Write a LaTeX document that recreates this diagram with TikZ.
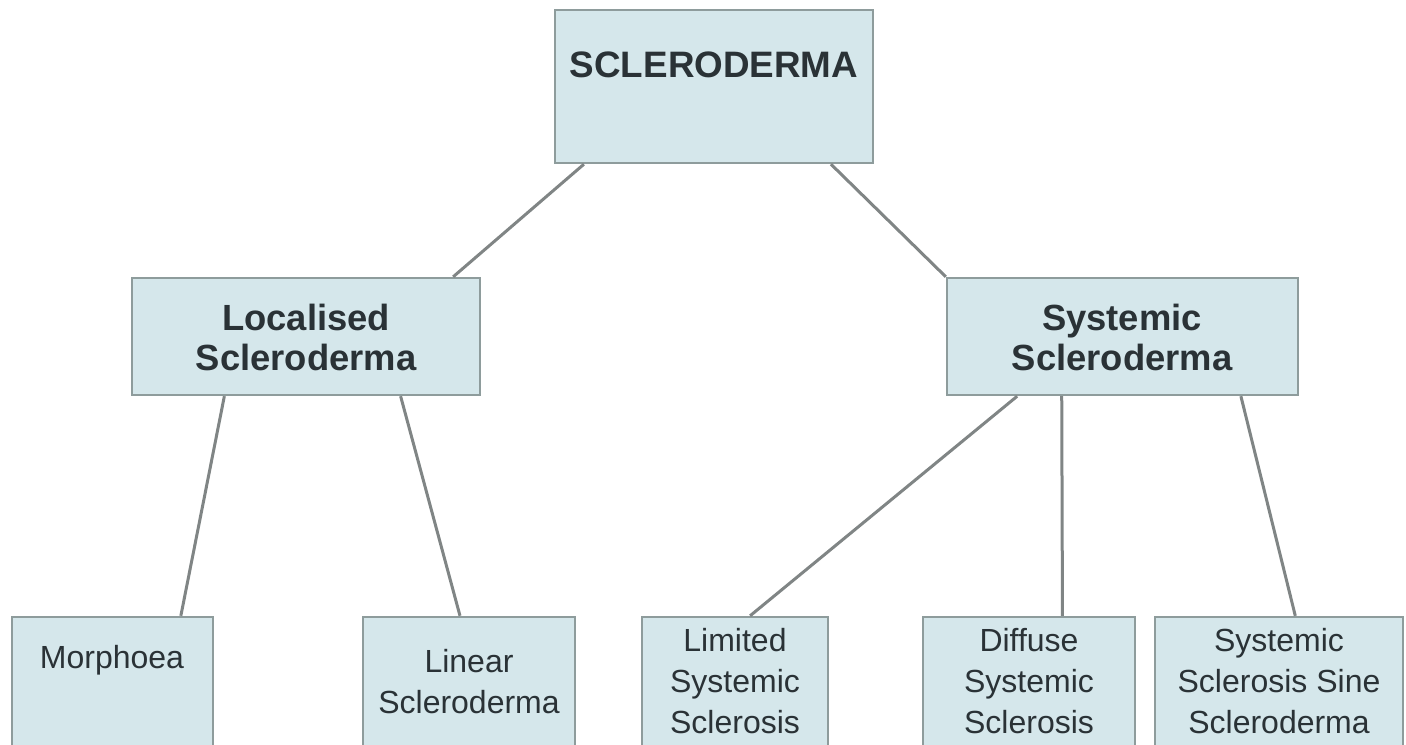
\documentclass[tikz,border=0pt]{standalone}
\usepackage{fontspec}
\setmainfont{Liberation Sans}
\usetikzlibrary{calc}
\definecolor{boxfill}{HTML}{D5E7EB}
\definecolor{boxdraw}{HTML}{8E9C9C}
\definecolor{linkcol}{HTML}{808585}
\definecolor{txtcol}{HTML}{2A3236}
\tikzset{
  box/.style={draw=boxdraw, fill=boxfill, line width=1.2pt, inner sep=0pt},
  link/.style={draw=linkcol, line width=1.5pt},
  lvlone/.style={text=txtcol, font=\bfseries\fontsize{18.4pt}{20pt}\selectfont, inner sep=0pt},
  lvltwo/.style={text=txtcol, font=\bfseries\fontsize{18.2pt}{20pt}\selectfont, align=center, inner sep=0pt},
  lvlthree/.style={text=txtcol, font=\fontsize{16pt}{20.5pt}\selectfont, align=center, inner sep=0pt}
}
\begin{document}
\begin{tikzpicture}[x=0.5pt,y=-0.5pt]
\useasboundingbox (0,0) rectangle (1406,744);
\clip (0,0) rectangle (1406,744);
% boxes
\node[box, minimum width=159pt, minimum height=76.5pt] (top) at (714,86.5) {};
\node[box, minimum width=174pt, minimum height=58.5pt] (loc) at (306,336.5) {};
\node[box, minimum width=175.5pt, minimum height=58.5pt] (sys) at (1122.5,336.5) {};
\node[box, minimum width=100.5pt, minimum height=71.5pt] (morph) at (112.5,688.5) {};
\node[box, minimum width=106pt, minimum height=71.5pt] (lin) at (469,688.5) {};
\node[box, minimum width=93pt, minimum height=71.5pt] (lim) at (735,688.5) {};
\node[box, minimum width=106pt, minimum height=71.5pt] (dif) at (1029,688.5) {};
\node[box, minimum width=124pt, minimum height=71.5pt] (sine) at (1279,688.5) {};
% texts
\node[lvlone] (toptext) at (714,65) {SCLERODERMA};
\node[lvltwo] (loctext) at (306,337) {Localised\\Scleroderma};
\node[lvltwo] (systext) at (1122,337) {Systemic\\Scleroderma};
\node[lvlthree] (morphtext) at (112,660) {Morphoea};
\node[lvlthree] (lintext) at (469,682) {Linear\\Scleroderma};
\node[lvlthree] (limtext) at (735,681) {Limited\\Systemic\\Sclerosis};
\node[lvlthree] (diftext) at (1029,681) {Diffuse\\Systemic\\Sclerosis};
\node[lvlthree] (sinetext) at (1279,681) {Systemic\\Sclerosis Sine\\Scleroderma};
% connectors
\draw[link] ($(top.south west)!0.094!(top.south east)$) -- ($(loc.north west)!0.92!(loc.north east)$);
\draw[link] ($(top.south west)!0.865!(top.south east)$) -- (sys.north west);
\draw[link] ($(loc.south west)!0.267!(loc.south east)$) -- ($(morph.north west)!0.836!(morph.north east)$);
\draw[link] ($(loc.south west)!0.77!(loc.south east)$) -- ($(lin.north west)!0.458!(lin.north east)$);
\draw[link] ($(sys.south west)!0.202!(sys.south east)$) -- ($(lim.north west)!0.58!(lim.north east)$);
\draw[link] ($(sys.south west)!0.328!(sys.south east)$) -- ($(dif.north west)!0.656!(dif.north east)$);
\draw[link] ($(sys.south west)!0.835!(sys.south east)$) -- ($(sine.north west)!0.565!(sine.north east)$);
\end{tikzpicture}
\end{document}
